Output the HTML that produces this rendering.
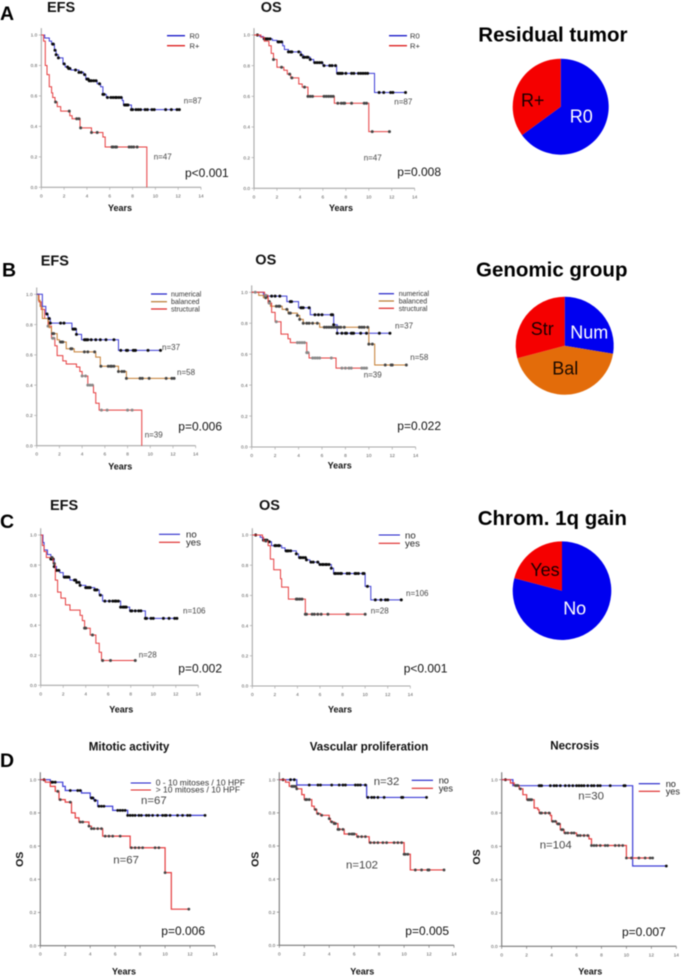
<!DOCTYPE html>
<html lang="en">
<head>
<meta charset="utf-8">
<title>Kaplan-Meier survival curves</title>
<style>
html,body{margin:0;padding:0;background:#fff;width:682px;height:976px;overflow:hidden}
#figure{display:block;filter:blur(.4px)}
text{font-family:"Liberation Sans",Arial,sans-serif}
.letter{font-size:19.5px;font-weight:bold;fill:#000}
.head{font-size:14.5px;font-weight:bold;fill:#111}
.pie-title{font-size:20.5px;font-weight:bold;fill:#000}
.sub{font-size:11.6px;font-weight:bold;fill:#111;text-anchor:middle}
.years{font-size:9px;font-weight:bold;fill:#111;text-anchor:middle}
.ostitle{font-size:10.5px;font-weight:bold;fill:#111;text-anchor:middle}
.pval{font-size:12px;fill:#111}
.n{font-size:8px;fill:#444}
.nb{font-size:11.4px;fill:#444}
.leg{font-size:7px;fill:#333}
.legb{font-size:9.6px;fill:#222}
.legm{font-size:8.5px;fill:#333}
.pl{font-size:18px;text-anchor:middle}
</style>
</head>
<body>
<svg id="figure" xmlns="http://www.w3.org/2000/svg" width="682" height="976" viewBox="0 0 682 976">
  <g id="plots"></g>
  <g id="pies"></g>

  <text class="letter" x="0" y="20">A</text>
  <text class="letter" x="2" y="276.5">B</text>
  <text class="letter" x="0" y="528">C</text>
  <text class="letter" x="0" y="767">D</text>

  <text class="head" x="47" y="12">EFS</text>
  <text class="head" x="260.7" y="12">OS</text>
  <text class="head" x="40.7" y="265.3">EFS</text>
  <text class="head" x="255.3" y="264.7">OS</text>
  <text class="head" x="50" y="510">EFS</text>
  <text class="head" x="259" y="510">OS</text>
  <text class="sub" x="129" y="750.7">Mitotic activity</text>
  <text class="sub" x="369" y="750.7">Vascular proliferation</text>
  <text class="sub" x="574.7" y="749.5">Necrosis</text>

  <text class="pie-title" x="478.3" y="41.7">Residual tumor</text>
  <text class="pie-title" x="476" y="276.7">Genomic group</text>
  <text class="pie-title" x="477.7" y="525">Chrom. 1q gain</text>

  <text class="years" x="120" y="211">Years</text>
  <text class="years" x="341" y="211">Years</text>
  <text class="years" x="120.3" y="469.3">Years</text>
  <text class="years" x="339.7" y="468.7">Years</text>
  <text class="years" x="121.3" y="712.7">Years</text>
  <text class="years" x="340" y="712.7">Years</text>
  <text class="years" x="124" y="974.5">Years</text>
  <text class="years" x="362.3" y="974.5">Years</text>
  <text class="years" x="590.3" y="974.5">Years</text>

  <text class="ostitle" transform="translate(23,859.3) rotate(-90)">OS</text>
  <text class="ostitle" transform="translate(258.5,859.3) rotate(-90)">OS</text>
  <text class="ostitle" transform="translate(480,857) rotate(-90)">OS</text>

  <text class="pval" x="185" y="177">p&lt;0.001</text>
  <text class="pval" x="397.3" y="176">p=0.008</text>
  <text class="pval" x="178.3" y="430.3">p=0.006</text>
  <text class="pval" x="397.3" y="430">p=0.022</text>
  <text class="pval" x="178.3" y="672.3">p=0.002</text>
  <text class="pval" x="403.7" y="672.3">p&lt;0.001</text>
  <text class="pval" x="161.3" y="935">p=0.006</text>
  <text class="pval" x="405.3" y="935">p=0.005</text>
  <text class="pval" x="622" y="936">p=0.007</text>

  <text class="n" x="183.7" y="103.7">n=87</text>
  <text class="n" x="153.7" y="159.3">n=47</text>
  <text class="n" x="394.3" y="104.7">n=87</text>
  <text class="n" x="363.7" y="160.7">n=47</text>
  <text class="n" x="162" y="350">n=37</text>
  <text class="n" x="177" y="375">n=58</text>
  <text class="n" x="144.7" y="437.7">n=39</text>
  <text class="n" x="395" y="328.7">n=37</text>
  <text class="n" x="410.3" y="360">n=58</text>
  <text class="n" x="363.7" y="377.7">n=39</text>
  <text class="n" x="183" y="613.3">n=106</text>
  <text class="n" x="138.7" y="657.7">n=28</text>
  <text class="n" x="406" y="596">n=106</text>
  <text class="n" x="370.7" y="613.3">n=28</text>
  <text class="nb" x="141" y="804">n=67</text>
  <text class="nb" x="113.3" y="863.3">n=67</text>
  <text class="nb" x="373.7" y="785">n=32</text>
  <text class="nb" x="346" y="868.7">n=102</text>
  <text class="nb" x="578.3" y="799.7">n=30</text>
  <text class="nb" x="539.7" y="848.3">n=104</text>

  <g>
    <line x1="167" x2="185" y1="35.7" y2="35.7" stroke="#1c1cc8" stroke-width="1.3"/><line x1="167" x2="185" y1="45.7" y2="45.7" stroke="#dd2222" stroke-width="1.3"/>
    <text class="leg" x="189.5" y="38.5" style="font-size:7.6px">R0</text><text class="leg" x="189.5" y="48.5" style="font-size:7.6px">R+</text>
  </g>
  <g>
    <line x1="389" x2="407" y1="35.7" y2="35.7" stroke="#1c1cc8" stroke-width="1.3"/><line x1="389" x2="407" y1="45.7" y2="45.7" stroke="#dd2222" stroke-width="1.3"/>
    <text class="leg" x="410" y="38.5" style="font-size:7.6px">R0</text><text class="leg" x="410" y="48.5" style="font-size:7.6px">R+</text>
  </g>
  <g>
    <line x1="151" x2="167" y1="294" y2="294" stroke="#1c1cc8" stroke-width="1.2"/><line x1="151" x2="167" y1="301.7" y2="301.7" stroke="#b8772e" stroke-width="1.2"/><line x1="151" x2="167" y1="309" y2="309" stroke="#dd2222" stroke-width="1.2"/>
    <text class="leg" x="171" y="296.5">numerical</text><text class="leg" x="171" y="304.2">balanced</text><text class="leg" x="171" y="311.5">structural</text>
  </g>
  <g>
    <line x1="378.7" x2="394" y1="293.7" y2="293.7" stroke="#1c1cc8" stroke-width="1.2"/><line x1="378.7" x2="394" y1="301" y2="301" stroke="#b8772e" stroke-width="1.2"/><line x1="378.7" x2="394" y1="308.3" y2="308.3" stroke="#dd2222" stroke-width="1.2"/>
    <text class="leg" x="398.7" y="296.2">numerical</text><text class="leg" x="398.7" y="303.5">balanced</text><text class="leg" x="398.7" y="310.8">structural</text>
  </g>
  <g>
    <line x1="159" x2="180" y1="534.3" y2="534.3" stroke="#2a2acc" stroke-width="1.1"/><line x1="159" x2="180" y1="542.3" y2="542.3" stroke="#dd2222" stroke-width="1.1"/>
    <text class="legb" x="186" y="537.5">no</text><text class="legb" x="186" y="545.5">yes</text>
  </g>
  <g>
    <line x1="378.7" x2="400" y1="535" y2="535" stroke="#1c1cc8" stroke-width="1.1"/><line x1="378.7" x2="400" y1="543.3" y2="543.3" stroke="#dd2222" stroke-width="1.1"/>
    <text class="legb" x="405" y="538.5">no</text><text class="legb" x="405" y="546.5">yes</text>
  </g>
  <g>
    <line x1="130.7" x2="151" y1="783" y2="783" stroke="#1c1cc8" stroke-width="1.1"/><line x1="130.7" x2="151" y1="790" y2="790" stroke="#dd2222" stroke-width="1.1"/>
    <text class="legm" x="155.7" y="785.5">0 - 10 mitoses / 10 HPF</text><text class="legm" x="155.7" y="792.5">&gt; 10 mitoses / 10 HPF</text>
  </g>
  <g>
    <line x1="411.7" x2="433" y1="780.3" y2="780.3" stroke="#1c1cc8" stroke-width="1.1"/><line x1="411.7" x2="433" y1="788.3" y2="788.3" stroke="#dd2222" stroke-width="1.1"/>
    <text class="legb" x="438.7" y="783.5" style="font-size:9.2px">no</text><text class="legb" x="438.7" y="791.3" style="font-size:9.2px">yes</text>
  </g>
  <g>
    <line x1="638.7" x2="660" y1="783.7" y2="783.7" stroke="#1c1cc8" stroke-width="1.1"/><line x1="638.7" x2="660" y1="791.3" y2="791.3" stroke="#dd2222" stroke-width="1.1"/>
    <text class="legb" x="665.7" y="787" style="font-size:9.2px">no</text><text class="legb" x="665.7" y="794.5" style="font-size:9.2px">yes</text>
  </g>

  <g id="pie-labels"></g>
</svg>

<script>
// Axis tick labels
const xTickLabels = [0, 2, 4, 6, 8, 10, 12, 14];
const yTickLabels = ['0.0', '0.2', '0.4', '0.6', '0.8', '1.0'];

// A EFS
const aEfsR0Times = [0, .3, .7, .9, 1.15, 1.3, 1.5, 1.9, 2.1, 2.4, 2.6, 3.3, 3.7, 3.9, 4.2, 4.9, 5.2, 5.4, 5.7, 7.1, 7.2, 7.9];
const aEfsR0Surv = [1, .98, .96, .94, .90, .87, .85, .81, .79, .78, .77, .755, .74, .71, .70, .68, .66, .61, .59, .57, .54, .51];
const aEfsR0Cens = [1, 1.05, 1.2, 1.3, 1.5, 2, 2.3, 2.4, 2.5, 3, 3.3, 3.5, 3.8, 4, 4.1, 4.2, 4.3, 4.4, 4.6, 4.8, 5.1, 5.4, 5.5, 5.8, 6.1, 6.3, 6.5, 6.6, 6.8, 7, 7.3, 7.4, 7.5, 7.6, 7.9, 8, 8.3, 8.5, 8.7, 9.1, 9.3, 9.7, 9.9, 10.9, 11.4, 11.9, 12.1];
const aEfsRpTimes = [0, .2, .35, .5, .7, .9, 1, 1.2, 1.4, 1.7, 2.5, 2.7, 3.4, 4.4, 5.4, 5.6, 9.25];
const aEfsRpSurv = [1, .96, .80, .74, .66, .62, .59, .56, .53, .50, .47, .45, .39, .36, .33, .265, 0];
const aEfsRpCens = [1.25, 2.45, 3.1, 3.3, 3.45, 4.4, 4.9, 6.2, 6.3, 6.5, 6.6, 7.7, 7.9, 8.1, 8.4];

// A OS
const aOsR0Times = [0, .5, .8, 1.6, 2, 2.5, 2.65, 3, 4.1, 4.3, 4.9, 5.2, 6, 7.2, 10.5];
const aOsR0Surv = [1, .99, .975, .965, .955, .93, .905, .89, .87, .855, .84, .82, .80, .75, .625];
const aOsR0Cens = [.3, .9, 1, 1.1, 1.2, 1.4, 2.1, 2.2, 2.4, 3, 3.2, 3.3, 3.9, 4.1, 4.3, 4.4, 4.6, 4.7, 4.9, 5.3, 5.5, 5.7, 5.9, 6.1, 6.6, 6.8, 7.1, 7.3, 7.4, 7.5, 7.6, 7.7, 8, 8.5, 8.7, 9.1, 9.3, 9.5, 9.7, 9.9, 10.9, 11.3, 11.9, 12.1, 13.2];
const aOsRpTimes = [0, .6, .9, 1.3, 1.5, 1.7, 2, 2.6, 2.9, 3.2, 3.9, 4.2, 4.7, 7, 10];
const aOsRpSurv = [1, .985, .96, .93, .88, .84, .79, .77, .745, .72, .68, .66, .60, .555, .37];
const aOsRpCens = [1.7, 2.4, 3.1, 3.3, 4.4, 4.7, 4.9, 5.1, 6.1, 6.3, 6.5, 6.7, 6.9, 7.3, 7.6, 7.8, 7.9, 8.5, 9.6, 9.8, 10.3, 11.8];

// B EFS
const bEfsNumTimes = [0, .5, .8, 1, 1.2, 3.1, 3.5, 3.95, 7.2];
const bEfsNumSurv = [1, .92, .87, .84, .81, .77, .735, .70, .63];
const bEfsNumCens = [.9, 1.1, 1.2, 2.1, 2.4, 3.2, 3.3, 3.4, 3.5, 4.2, 4.3, 4.4, 4.5, 4.8, 5.2, 5.6, 6.1, 6.8, 7.4, 7.9, 8, 8.5, 8.6, 8.7, 9.8, 10.9];
const bEfsBalTimes = [0, .15, .3, .5, 1, 1.1, 1.3, 1.8, 2, 2.6, 3.3, 5.2, 5.6, 7.2, 7.9];
const bEfsBalSurv = [1, .96, .92, .84, .82, .78, .74, .70, .685, .64, .62, .585, .525, .49, .445];
const bEfsBalCens = [1.4, 1.5, 2.1, 2.2, 2.3, 3, 3.1, 4.2, 4.5, 5.1, 5.65, 6.3, 6.5, 6.6, 6.8, 7.2, 7.5, 7.7, 7.9, 9.1, 9.3, 9.9, 11.4, 11.9, 12.1];
const bEfsStrTimes = [0, .2, .4, .7, 1, 1.3, 1.6, 1.8, 2.3, 2.6, 3.5, 3.8, 4, 4.5, 5, 5.2, 5.5, 9.25];
const bEfsStrSurv = [1, .95, .90, .84, .79, .71, .66, .595, .56, .54, .52, .49, .46, .40, .35, .28, .235, 0];
const bEfsStrCens = [1, 1.4, 1.5, 4, 4.3, 4.5, 4.7, 4.9, 5.7, 6.2, 8, 8.4];

// B OS
const bOsNumTimes = [0, 1, 3, 4, 5, 7, 7.3];
const bOsNumSurv = [1, .975, .94, .90, .855, .79, .735];
const bOsNumCens = [1.2, 1.3, 1.7, 2, 2.4, 3.3, 3.4, 4.2, 4.3, 4.4, 4.9, 5.4, 5.7, 6, 6.8, 6.9, 7, 7.3, 7.7, 8, 8.1, 8.5, 8.6, 8.7, 9.3, 9.8, 10.9, 11.8];
const bOsBalTimes = [0, .6, 1, 1.4, 1.6, 2.6, 3.1, 3.9, 4.1, 4.4, 5.8, 10, 10.5];
const bOsBalSurv = [1, .98, .965, .94, .91, .89, .865, .85, .825, .80, .774, .665, .53];
const bOsBalCens = [1.2, 1.5, 2.1, 2.3, 2.4, 3, 3.2, 3.3, 3.9, 4.1, 4.4, 4.7, 4.9, 5.2, 5.6, 6.2, 6.4, 6.6, 6.8, 7, 7.2, 7.4, 7.6, 7.9, 9.2, 9.4, 9.6, 9.9, 10, 10.3, 11.4, 11.9, 12, 13.2];
const bOsStrTimes = [0, 1.1, 1.4, 1.7, 2, 2.5, 3.1, 3.3, 4.7, 4.9, 7.2];
const bOsStrSurv = [1, .98, .93, .87, .81, .73, .70, .675, .61, .575, .51];
const bOsStrCens = [.3, 1.2, 1.5, 2.1, 3.9, 4.1, 4.3, 4.5, 4.7, 4.8, 5.2, 5.4, 5.6, 5.8, 6.8, 7.7, 8, 8.3, 8.5, 9.4, 9.6, 9.8];

// C EFS
const cEfsNoTimes = [0, .2, .3, .6, .9, 1.2, 1.4, 1.7, 2, 2.6, 3.2, 3.5, 4, 4.8, 5.2, 5.5, 7.1, 7.9, 9.3];
const cEfsNoSurv = [1, .95, .90, .87, .84, .79, .765, .75, .72, .70, .685, .665, .65, .635, .60, .56, .52, .495, .445];
const cEfsNoCens = [.9, 1, 1.1, 1.2, 1.4, 1.6, 2.1, 2.2, 2.3, 2.4, 2.5, 3, 3.1, 3.2, 3.4, 3.5, 4, 4.1, 4.2, 4.3, 4.4, 4.8, 4.9, 5, 5.3, 5.7, 6.1, 6.4, 6.6, 6.7, 6.9, 7.1, 7.3, 7.4, 7.5, 7.6, 8, 8.1, 8.4, 8.7, 8.9, 9.3, 9.4, 9.8, 10, 10.9, 11.4, 11.9, 12.1];
const cEfsYesTimes = [0, .15, .3, .5, 1.1, 1.3, 1.5, 1.8, 2.2, 2.6, 3.5, 3.7, 3.9, 4.4, 4.9, 5.2, 5.4];
const cEfsYesSurv = [1, .93, .89, .85, .81, .70, .62, .58, .535, .50, .465, .43, .38, .335, .28, .22, .165];
const cEfsYesCens = [1, 1.2, 3.9, 4, 4.6, 5.5, 6.2, 8.4];

// C OS
const cOsNoTimes = [0, .7, .9, 1.4, 1.7, 2.6, 2.9, 3.9, 4.1, 4.8, 5.1, 5.9, 7, 7.2, 10, 10.5];
const cOsNoSurv = [1, .985, .965, .955, .93, .915, .895, .875, .85, .835, .82, .805, .78, .745, .66, .57];
const cOsNoCens = [.3, 1, 1.1, 1.2, 1.3, 1.5, 2, 2.1, 2.3, 2.4, 3, 3.1, 3.2, 3.4, 3.9, 4.2, 4.3, 4.5, 4.7, 4.8, 5.2, 5.4, 5.8, 6, 6.2, 6.3, 6.5, 6.6, 6.8, 7, 7.3, 7.4, 7.6, 7.8, 7.9, 8.4, 8.6, 9.1, 9.2, 9.4, 9.8, 9.9, 10.2, 10.9, 11.4, 11.8, 12, 13.2];
const cOsYesTimes = [0, .9, 1, 1.4, 1.6, 1.9, 2.5, 2.6, 3.2, 4.7];
const cOsYesSurv = [1, .985, .96, .93, .84, .77, .71, .655, .575, .475];
const cOsYesCens = [1.2, 3.9, 4, 4.2, 4.4, 4.7, 4.8, 5.3, 5.5, 5.8, 6.1, 6.7, 8.4, 8.5, 10];

// D Mitotic activity
const dMitLowTimes = [0, .8, 1.8, 2, 3.3, 4, 4.3, 4.6, 5.8, 7];
const dMitLowSurv = [1, .985, .96, .935, .92, .89, .875, .84, .815, .785];
const dMitLowCens = [.3, .9, 1, 1.2, 2.4, 3, 3.2, 4.1, 4.2, 4.4, 4.7, 4.9, 5.1, 6.2, 6.4, 6.6, 6.8, 7, 7.2, 7.4, 7.6, 7.9, 8.1, 8.5, 8.7, 9, 9.4, 9.8, 10, 10.1, 10.4, 11, 11.4, 11.8, 12, 13.2];
const dMitHighTimes = [0, .4, .8, 1.2, 1.5, 2, 2.5, 2.8, 3.1, 3.9, 4.1, 5, 7.2, 10, 10.5];
const dMitHighSurv = [1, .985, .96, .93, .88, .865, .80, .77, .745, .72, .705, .66, .59, .44, .22];
const dMitHighCens = [1.4, 1.6, 2.4, 3.2, 3.4, 3.9, 4.1, 4.3, 4.6, 4.9, 5.2, 5.5, 5.8, 6.4, 7.3, 7.6, 7.9, 8.2, 9.2, 9.5, 10, 11.9];

// D Vascular proliferation
const dVasNoTimes = [0, 1.4, 7];
const dVasNoSurv = [1, .968, .893];
const dVasNoCens = [.3, .9, 1.2, 2.4, 3.1, 3.3, 4.2, 4.8, 5.1, 5.3, 6.1, 6.3, 6.5, 6.9, 7.1, 7.4, 7.6, 7.9, 8.4, 9.8, 9.9, 11.8];
const dVasYesTimes = [0, .5, .8, 1.4, 1.8, 2, 2.6, 2.8, 3, 3.3, 4, 4.1, 4.4, 4.7, 5.2, 6.2, 7.2, 10, 10.5];
const dVasYesSurv = [1, .985, .96, .945, .91, .88, .84, .82, .795, .785, .765, .745, .735, .70, .672, .656, .62, .55, .455];
const dVasYesCens = [1, 1.1, 1.2, 1.3, 1.4, 2.1, 2.2, 2.4, 2.9, 3.1, 3.4, 4, 4.2, 4.4, 4.5, 4.7, 4.8, 5.1, 5.6, 5.8, 5.9, 6, 6.3, 6.6, 6.9, 7.3, 7.6, 7.9, 8.3, 8.6, 9.2, 9.5, 9.8, 10, 10.1, 10.3, 10.9, 11.4, 11.9, 12, 13.2];

// D Necrosis
const dNecNoTimes = [0, .9, 10.5];
const dNecNoSurv = [1, .964, .482];
const dNecNoCens = [.3, 3, 3.1, 3.2, 3.9, 4.2, 4.4, 4.7, 5.1, 5.4, 5.7, 6, 6.2, 6.4, 6.6, 6.9, 7.2, 7.4, 7.7, 7.9, 8.7, 9.8, 9.9, 13.2];
const dNecYesTimes = [0, .7, 1, 1.4, 1.7, 2, 2.6, 2.9, 3, 3.9, 4, 4.4, 4.7, 5, 6, 7, 7.2, 10];
const dNecYesSurv = [1, .98, .965, .945, .91, .88, .83, .82, .80, .785, .75, .735, .70, .68, .665, .645, .605, .53];
const dNecYesCens = [1.1, 1.2, 1.3, 1.5, 2.1, 2.2, 2.3, 2.4, 3.1, 3.2, 3.5, 3.8, 4.1, 4.3, 4.5, 4.6, 4.8, 4.9, 5.1, 5.3, 5.6, 5.8, 6.1, 6.3, 6.6, 6.9, 7.2, 7.4, 7.6, 7.9, 8.3, 8.5, 9.1, 9.4, 9.7, 10, 10.4, 11, 11.5, 11.9, 12.1];

// Pie values (patient counts)
const pieResidualValues = [87, 47];
const pieGenomicValues = [37, 58, 39];
const pieChromValues = [106, 28];

const BLUE = '#3c3cd6', RED = '#e53c3e', ORANGE = '#c47c30';
const INK = '#0a0a0a', GREY = '#444444', LIGHT = '#888888';

const panels = [
  {id:'a-efs', left:41.3, right:201, topY:35, botY:187.3, axis:'#a8a8a8', lw:1, dot:1.5, series:[
    {name:'r0', t:aEfsR0Times, s:aEfsR0Surv, c:aEfsR0Cens, color:BLUE, mark:INK},
    {name:'rplus', t:aEfsRpTimes, s:aEfsRpSurv, c:aEfsRpCens, color:RED, mark:GREY}]},
  {id:'a-os', left:254, right:414.7, topY:35, botY:188.3, axis:'#a8a8a8', lw:1, dot:1.5, series:[
    {name:'r0', t:aOsR0Times, s:aOsR0Surv, c:aOsR0Cens, color:BLUE, mark:INK},
    {name:'rplus', t:aOsRpTimes, s:aOsRpSurv, c:aOsRpCens, color:RED, mark:GREY}]},
  {id:'b-efs', left:36.7, right:195.7, topY:294.3, botY:445.7, axis:'#a8a8a8', lw:1, dot:1.5, series:[
    {name:'structural', t:bEfsStrTimes, s:bEfsStrSurv, c:bEfsStrCens, color:RED, mark:LIGHT},
    {name:'balanced', t:bEfsBalTimes, s:bEfsBalSurv, c:bEfsBalCens, color:ORANGE, mark:GREY},
    {name:'numerical', t:bEfsNumTimes, s:bEfsNumSurv, c:bEfsNumCens, color:BLUE, mark:INK}]},
  {id:'b-os', left:251.7, right:415.7, topY:292.3, botY:447, axis:'#a8a8a8', lw:1, dot:1.5, series:[
    {name:'numerical', t:bOsNumTimes, s:bOsNumSurv, c:bOsNumCens, color:BLUE, mark:INK},
    {name:'balanced', t:bOsBalTimes, s:bOsBalSurv, c:bOsBalCens, color:ORANGE, mark:GREY},
    {name:'structural', t:bOsStrTimes, s:bOsStrSurv, c:bOsStrCens, color:RED, mark:LIGHT}]},
  {id:'c-efs', left:40.7, right:198.3, topY:535, botY:685.3, axis:'#a8a8a8', lw:1, dot:1.5, series:[
    {name:'no', t:cEfsNoTimes, s:cEfsNoSurv, c:cEfsNoCens, color:BLUE, mark:INK},
    {name:'yes', t:cEfsYesTimes, s:cEfsYesSurv, c:cEfsYesCens, color:RED, mark:GREY}]},
  {id:'c-os', left:252.3, right:410.3, topY:535, botY:686, axis:'#a8a8a8', lw:1, dot:1.5, series:[
    {name:'no', t:cOsNoTimes, s:cOsNoSurv, c:cOsNoCens, color:BLUE, mark:INK},
    {name:'yes', t:cOsYesTimes, s:cOsYesSurv, c:cOsYesCens, color:RED, mark:GREY}]},
  {id:'mitotic', left:40.3, right:215, topY:779.7, botY:945.7, axis:'#777777', lw:1.2, dot:1.4, series:[
    {name:'low', t:dMitLowTimes, s:dMitLowSurv, c:dMitLowCens, color:BLUE, mark:INK},
    {name:'high', t:dMitHighTimes, s:dMitHighSurv, c:dMitHighCens, color:RED, mark:GREY}]},
  {id:'vascular', left:279.3, right:454, topY:779.7, botY:945.3, axis:'#777777', lw:1.2, dot:1.4, series:[
    {name:'no', t:dVasNoTimes, s:dVasNoSurv, c:dVasNoCens, color:BLUE, mark:INK},
    {name:'yes', t:dVasYesTimes, s:dVasYesSurv, c:dVasYesCens, color:RED, mark:GREY}]},
  {id:'necrosis', left:501.7, right:676.3, topY:779.7, botY:946.3, axis:'#777777', lw:1.2, dot:1.4, series:[
    {name:'no', t:dNecNoTimes, s:dNecNoSurv, c:dNecNoCens, color:BLUE, mark:INK},
    {name:'yes', t:dNecYesTimes, s:dNecYesSurv, c:dNecYesCens, color:RED, mark:GREY}]}
];

const SVGNS = 'http://www.w3.org/2000/svg';
function mk(tag, attrs, parent) {
  const el = document.createElementNS(SVGNS, tag);
  for (const k in attrs) el.setAttribute(k, attrs[k]);
  parent.appendChild(el);
  return el;
}
function survivalAt(times, surv, t) {
  let v = surv[0];
  for (let i = 0; i < times.length; i++) { if (times[i] <= t) v = surv[i]; }
  return v;
}

const plots = document.getElementById('plots');
panels.forEach(function (p) {
  const sx = function (t) { return p.left + (t / 14) * (p.right - p.left); };
  const sy = function (v) { return p.botY - v * (p.botY - p.topY); };

  const g = mk('g', {}, plots);
  
  

  const yAxis = mk('line', {x1:p.left, x2:p.left, y1:sy(1.045), y2:p.botY, stroke:p.axis, 'stroke-width':1.1}, g);
  
  
  const xAxis = mk('line', {x1:p.left, x2:p.right, y1:p.botY, y2:p.botY, stroke:p.axis, 'stroke-width':1.1}, g);
  
  

  yTickLabels.forEach(function (lab) {
    const v = parseFloat(lab);
    mk('line', {x1:p.left - 2.5, x2:p.left, y1:sy(v), y2:sy(v), stroke:p.axis, 'stroke-width':.7}, g);
    const tx = mk('text', {x:p.left - 4, y:sy(v) + 1.7, 'text-anchor':'end', 'font-size':4.8, fill:'#555'}, g);
    tx.textContent = lab;
    
    
  });
  xTickLabels.forEach(function (val) {
    mk('line', {x1:sx(val), x2:sx(val), y1:p.botY, y2:p.botY + 2.5, stroke:p.axis, 'stroke-width':.7}, g);
    const tx = mk('text', {x:sx(val), y:p.botY + 10, 'text-anchor':'middle', 'font-size':4.8, fill:'#555'}, g);
    tx.textContent = val;
    
    
  });

  p.series.forEach(function (se) {
    const lastT = Math.max(se.t[se.t.length - 1], se.c.length ? se.c[se.c.length - 1] : 0);
    let d = 'M' + sx(0).toFixed(2) + ' ' + sy(se.s[0]).toFixed(2);
    for (let i = 1; i < se.t.length; i++) {
      d += 'H' + sx(se.t[i]).toFixed(2) + 'V' + sy(se.s[i]).toFixed(2);
    }
    d += 'H' + sx(lastT).toFixed(2);
    const line = mk('path', {d:d, fill:'none', stroke:se.color, 'stroke-width':p.lw}, g);
    
    

    se.c.forEach(function (ct) {
      const v = survivalAt(se.t, se.s, ct);
      const dot = mk('circle', {cx:sx(ct), cy:sy(v), r:p.dot, fill:se.mark}, g);
      
      
    });
  });
});

const pieDefs = [
  {id:'residual', cx:560.7, cy:106.7, r:48, values:pieResidualValues, colors:['#0000f0', '#f50000']},
  {id:'genomic', cx:564.7, cy:345.7, r:49, values:pieGenomicValues, colors:['#0000f0', '#e36c0a', '#f50000']},
  {id:'chrom', cx:562, cy:590.7, r:49.3, values:pieChromValues, colors:['#0000f0', '#f50000']}
];
const pies = document.getElementById('pies');
pieDefs.forEach(function (pd) {
  const total = pd.values.reduce(function (a, b) { return a + b; }, 0);
  let acc = 0;
  pd.values.forEach(function (val, i) {
    const a0 = acc / total * 2 * Math.PI;
    acc += val;
    const a1 = acc / total * 2 * Math.PI;
    const large = (a1 - a0) > Math.PI ? 1 : 0;
    const d = 'M' + pd.cx + ' ' + pd.cy +
      'L' + (pd.cx + pd.r * Math.sin(a0)).toFixed(2) + ' ' + (pd.cy - pd.r * Math.cos(a0)).toFixed(2) +
      'A' + pd.r + ' ' + pd.r + ' 0 ' + large + ' 1 ' +
      (pd.cx + pd.r * Math.sin(a1)).toFixed(2) + ' ' + (pd.cy - pd.r * Math.cos(a1)).toFixed(2) + 'Z';
    const slice = mk('path', {d:d, fill:pd.colors[i]}, pies);
    
    
  });
});

const pieLabelTexts = ['R0', 'R+', 'Num', 'Bal', 'Str', 'No', 'Yes'];
const pieLabelSpots = [
  {x:581.3, y:122.3, f:'#fff'}, {x:532.7, y:106.7, f:'#1a0000'},
  {x:589.3, y:338.3, f:'#fff'}, {x:565.3, y:374.3, f:'#1a0a00'}, {x:542.3, y:335, f:'#1a0000'},
  {x:574.7, y:614.3, f:'#fff'}, {x:545, y:576, f:'#1a0000'}
];
const pieLabelGroup = document.getElementById('pie-labels');
pieLabelTexts.forEach(function (txt, i) {
  const sp = pieLabelSpots[i];
  const t = mk('text', {x:sp.x, y:sp.y, fill:sp.f, class:'pl'}, pieLabelGroup);
  t.textContent = txt;
  
  
});
</script>
</body>
</html>
